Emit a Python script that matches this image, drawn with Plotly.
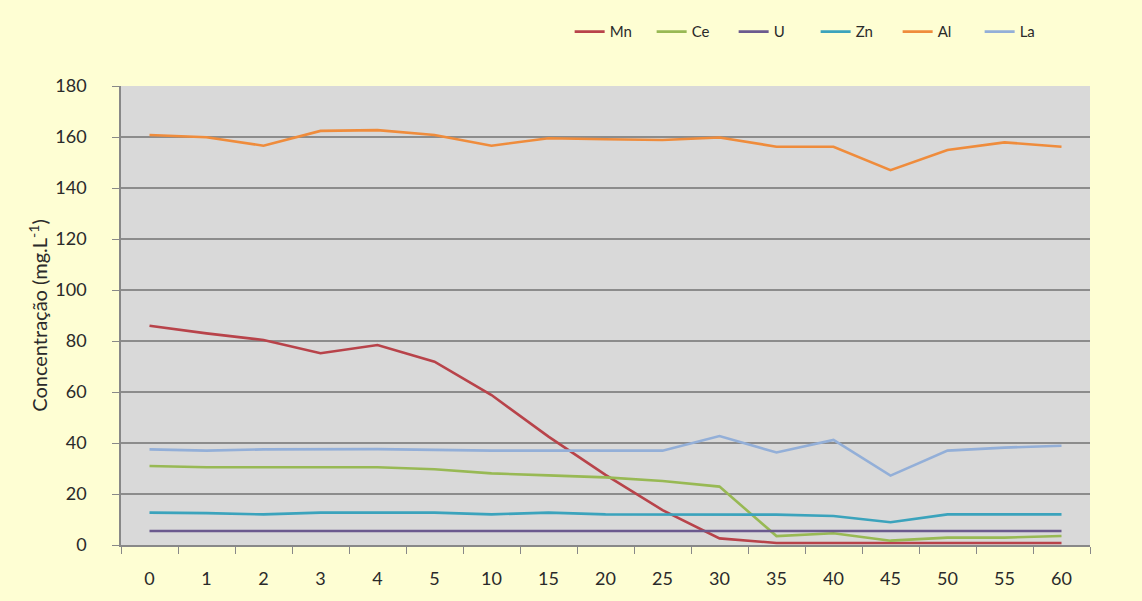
import plotly.graph_objects as go

# Sampling times (min) shown as categories
tempos = ["0", "1", "2", "3", "4", "5", "10", "15", "20", "25", "30", "35", "40", "45", "50", "55", "60"]

# Concentrations (mg/L) per element
mn = [86.0, 83.0, 80.4, 75.2, 78.4, 71.9, 58.8, 42.5, 27.5, 13.7, 2.6, 0.8, 0.8, 0.8, 0.8, 0.8, 0.8]
ce = [31.0, 30.5, 30.5, 30.5, 30.5, 29.7, 28.1, 27.3, 26.5, 25.1, 22.9, 3.5, 4.6, 1.7, 2.9, 2.9, 3.5]
u = [5.5] * 17
zn = [12.7, 12.5, 12.0, 12.7, 12.7, 12.7, 12.0, 12.7, 12.0, 12.0, 12.0, 11.9, 11.4, 8.9, 12.0, 12.0, 12.0]
al = [160.8, 159.9, 156.6, 162.4, 162.7, 160.8, 156.6, 159.5, 159.1, 158.8, 159.8, 156.2, 156.2, 147.0, 154.9, 157.9, 156.2]
la = [37.5, 37.0, 37.5, 37.6, 37.6, 37.3, 37.0, 37.0, 37.0, 37.0, 42.7, 36.3, 41.2, 27.2, 37.0, 38.2, 38.9]

series = [
    ("Mn", mn, "#B8434A"),
    ("Ce", ce, "#98B954"),
    ("U", u, "#6B5A8E"),
    ("Zn", zn, "#3BA3BC"),
    ("Al", al, "#EF8C3C"),
    ("La", la, "#93AFD8"),
]

fig = go.Figure()
for name, vals, color in series:
    fig.add_trace(go.Scatter(
        x=tempos, y=vals, name=name, mode="lines",
        line=dict(color=color, width=2.6),
    ))

font_family = "Lato, 'Open Sans', sans-serif"

fig.update_layout(
    width=1142, height=601,
    margin=dict(l=121, r=52, t=86, b=56),
    paper_bgcolor="#FEFED3",
    plot_bgcolor="#D9D9D9",
    font=dict(family=font_family, color="#2A2A2A"),
    showlegend=True,
    legend=dict(
        orientation="h", x=0.463, xanchor="left", y=1.118, yanchor="middle",
        font=dict(size=15, color="#2A2A2A"), bgcolor="rgba(0,0,0,0)",
        itemwidth=30, entrywidth=37, entrywidthmode="pixels",
    ),
    xaxis=dict(
        type="category", range=[-0.5, len(tempos) - 0.5],
        tickson="boundaries", ticks="outside", ticklen=7,
        tickcolor="#888888", showgrid=False, showline=True, linecolor="#888888",
        linewidth=1.5, tickfont=dict(size=18, color="#2A2A2A"), zeroline=False,
        ticklabelstandoff=17,
    ),
    yaxis=dict(
        range=[0, 180], dtick=20, ticks="outside", ticklen=7, tickcolor="#888888",
        showgrid=True, gridcolor="#8C8C8C", gridwidth=1.5,
        showline=True, linecolor="#888888", linewidth=1.5, zeroline=False,
        tickfont=dict(size=18, color="#2A2A2A"), ticklabelstandoff=22,
        title=dict(text="Concentração (mg.L<sup>-1</sup>)", font=dict(size=20, color="#2A2A2A"), standoff=2),
    ),
)

fig.write_html("out.html")
